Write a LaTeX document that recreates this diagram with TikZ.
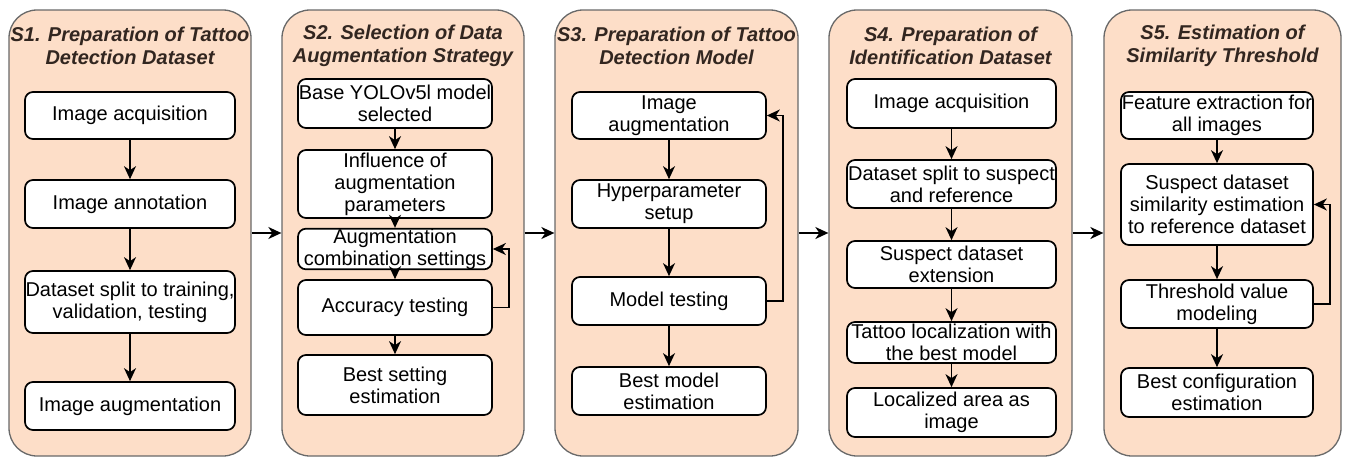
\documentclass[tikz,border=0pt]{standalone}
\usepackage{fontspec}
\setmainfont{Liberation Sans}
\usetikzlibrary{arrows.meta}
\definecolor{panelfill}{RGB}{253,222,200}
\definecolor{paneldraw}{RGB}{105,105,105}
\definecolor{titlecol}{RGB}{50,38,32}
\begin{document}
\begin{tikzpicture}[x=1pt,y=-1pt,
  panel/.style={draw=paneldraw, line width=1.3pt, fill=panelfill, rounded corners=28pt,
    minimum width=#1, minimum height=446pt, inner sep=0pt},
  box/.style={draw=black, line width=1.7pt, fill=white, rounded corners=8pt, inner sep=0pt,
    align=center, font=\fontsize{20}{22}\selectfont},
  bsz/.style 2 args={minimum width=#1, minimum height=#2},
  ttl/.style={text=titlecol, font=\fontsize{20}{23}\selectfont\bfseries\itshape, align=center, inner sep=0pt},
  arr/.style={line width=1.7pt, -{Stealth[length=13pt,width=12pt,inset=4pt]}}
]
\useasboundingbox (0,0) rectangle (1347,458);

% panels
\node[panel=242pt] (p1) at (130,233) {};
\node[panel=242pt] (p2) at (403,233) {};
\node[panel=243pt] (p3) at (676.5,233) {};
\node[panel=243pt] (p4) at (950.5,233) {};
\node[panel=237pt] (p5) at (1222.5,233) {};

% titles
\node[ttl] (t1) at (130,46) {S1. Preparation of Tattoo\\Detection Dataset};
\node[ttl] (t2) at (403,46) {S2. Selection of Data\\Augmentation Strategy};
\node[ttl] (t3) at (676.5,46) {S3. Preparation of Tattoo\\Detection Model};
\node[ttl] (t4) at (950.5,46) {S4. Preparation of\\Identification Dataset};
\node[ttl] (t5) at (1222.5,46) {S5. Estimation of\\Similarity Threshold};

% column 1
\node[box, bsz={210pt}{47pt}] (s1b1) at (130,115.5) {Image acquisition};
\node[box, bsz={210pt}{48pt}] (s1b2) at (130,204) {Image annotation};
\node[box, bsz={210pt}{62pt}] (s1b3) at (130,302) {Dataset split to training,\\validation, testing};
\node[box, bsz={210pt}{48pt}] (s1b4) at (130,406) {Image augmentation};

% column 2
\node[box, bsz={194pt}{49pt}] (s2b1) at (395,103.5) {Base YOLOv5l model\\selected};
\node[box, bsz={194pt}{68pt}] (s2b2) at (395,184) {Influence of\\augmentation\\parameters};
\node[box, bsz={194pt}{40pt}] (s2b3) at (395,249) {Augmentation\\combination settings};
\node[box, bsz={194pt}{55pt}] (s2b4) at (395,307.5) {Accuracy testing};
\node[box, bsz={194pt}{60pt}] (s2b5) at (395,385) {Best setting\\estimation};

% column 3
\node[box, bsz={194pt}{47pt}] (s3b1) at (669,115.5) {Image\\augmentation};
\node[box, bsz={194pt}{48pt}] (s3b2) at (669,204) {Hyperparameter\\setup};
\node[box, bsz={194pt}{48pt}] (s3b3) at (669,301) {Model testing};
\node[box, bsz={194pt}{48pt}] (s3b4) at (669,391) {Best model\\estimation};

% column 4
\node[box, bsz={209pt}{49pt}] (s4b1) at (951.5,103.5) {Image acquisition};
\node[box, bsz={209pt}{48pt}] (s4b2) at (951.5,184) {Dataset split to suspect\\and reference};
\node[box, bsz={209pt}{47pt}] (s4b3) at (951.5,264.5) {Suspect dataset\\extension};
\node[box, bsz={209pt}{41pt}] (s4b4) at (951.5,342.5) {Tattoo localization with\\the best model};
\node[box, bsz={209pt}{49pt}] (s4b5) at (951.5,412.5) {Localized area as\\image};

% column 5
\node[box, bsz={192pt}{47pt}] (s5b1) at (1217,115.5) {Feature extraction for\\all images};
\node[box, bsz={192pt}{81pt}] (s5b2) at (1217,204.5) {Suspect dataset\\similarity estimation\\to reference dataset};
\node[box, bsz={192pt}{48pt}] (s5b3) at (1217,304) {Threshold value\\modeling};
\node[box, bsz={192pt}{49pt}] (s5b4) at (1217,392.5) {Best configuration\\estimation};

% arrows between panels
\draw[arr] (p1.east) -- (p2.west);
\draw[arr] (p2.east) -- (p3.west);
\draw[arr] (p3.east) -- (p4.west);
\draw[arr] (p4.east) -- (p5.west);

% column arrows
\draw[arr] (s1b1) -- (s1b2);
\draw[arr] (s1b2) -- (s1b3);
\draw[arr] (s1b3) -- (s1b4);

\draw[arr] (s2b1) -- (s2b2);
\draw[arr] (s2b2) -- (s2b3);
\draw[arr] (s2b3) -- (s2b4);
\draw[arr] (s2b4) -- (s2b5);
\draw[arr] (s2b4.east) -- ++(16,0) |- (s2b3.east);

\draw[arr] (s3b1) -- (s3b2);
\draw[arr] (s3b2) -- (s3b3);
\draw[arr] (s3b3) -- (s3b4);
\draw[arr] (s3b3.east) -- ++(16,0) |- (s3b1.east);

\draw[arr] (s4b1) -- (s4b2);
\draw[arr] (s4b2) -- (s4b3);
\draw[arr] (s4b3) -- (s4b4);
\draw[arr] (s4b4) -- (s4b5);

\draw[arr] (s5b1) -- (s5b2);
\draw[arr] (s5b2) -- (s5b3);
\draw[arr] (s5b3) -- (s5b4);
\draw[arr] (s5b3.east) -- ++(16,0) |- (s5b2.east);
\end{tikzpicture}
\end{document}
